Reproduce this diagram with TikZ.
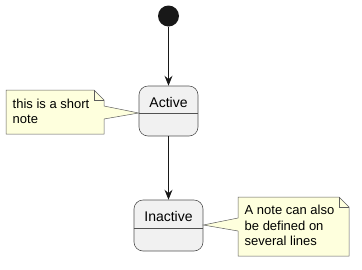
\documentclass[tikz,border=0pt]{standalone}
\usepackage{fontspec}
\setmainfont{Liberation Sans}
\usetikzlibrary{arrows.meta}
\definecolor{statefill}{HTML}{F1F1F1}
\definecolor{notefill}{HTML}{FEFFDD}
\definecolor{linecol}{HTML}{181818}
\tikzset{
  state/.style={draw=linecol!75, fill=statefill, rounded corners=9pt, line width=0.6pt, inner sep=0pt},
  statename/.style={font=\fontsize{14}{16}\selectfont, inner sep=0pt},
  notebox/.style={draw=linecol!70, fill=notefill, line width=0.5pt},
  notetext/.style={font=\fontsize{13}{15.5}\selectfont, align=left, inner sep=0pt, anchor=base west},
  trans/.style={-{Stealth[length=10pt,width=8pt,inset=3.5pt]}, linecol, line width=0.9pt}
}
\begin{document}
\begin{tikzpicture}[x=1pt,y=-1pt]
\useasboundingbox (0,0) rectangle (362,269);

% ===== 開始点 =====
\node[circle, fill=linecol, minimum size=21pt, inner sep=0pt] (start) at (168.5,16) {};

% ===== 状態 =====
\node[state, minimum width=59pt, minimum height=50pt] (active) at (168.5,111) {};
\draw[draw=linecol!75, line width=0.6pt] (active.west |- 0,113) coordinate (activeL) -- (active.east |- 0,113);
\node[statename] (activename) at (168.5,102) {Active};

\node[state, minimum width=69pt, minimum height=51pt] (inactive) at (168.5,225.5) {};
\draw[draw=linecol!75, line width=0.6pt] (inactive.west |- 0,228) -- (inactive.east |- 0,228);
\node[statename] (inactivename) at (168.5,216) {Inactive};
\coordinate (inactiveR) at (inactive.east |- 0,225);

% ===== 遷移 =====
\draw[trans] (start) -- (active);
\draw[trans] (active) -- (inactive);

% ===== ノート1 =====
\draw[notebox] (6,90) -- (94,90) -- (104,100) -- (104,106) -- (activeL) -- (104,119)
  -- (104,134) -- (6,134) -- cycle;
\draw[notebox, fill=none] (94,90) -- (94,100) -- (104,100);
\node[notetext] (note1) at (12.5,123.5) {this is a short\\note};

% ===== ノート2 =====
\draw[notebox] (238,197) -- (339,197) -- (349,207) -- (349,256) -- (238,256)
  -- (238,231) -- (inactiveR) -- (238,218) -- cycle;
\draw[notebox, fill=none] (339,197) -- (339,207) -- (349,207);
\node[notetext] (note2) at (244.5,245.5) {A note can also\\be defined on\\several lines};

\end{tikzpicture}
\end{document}
